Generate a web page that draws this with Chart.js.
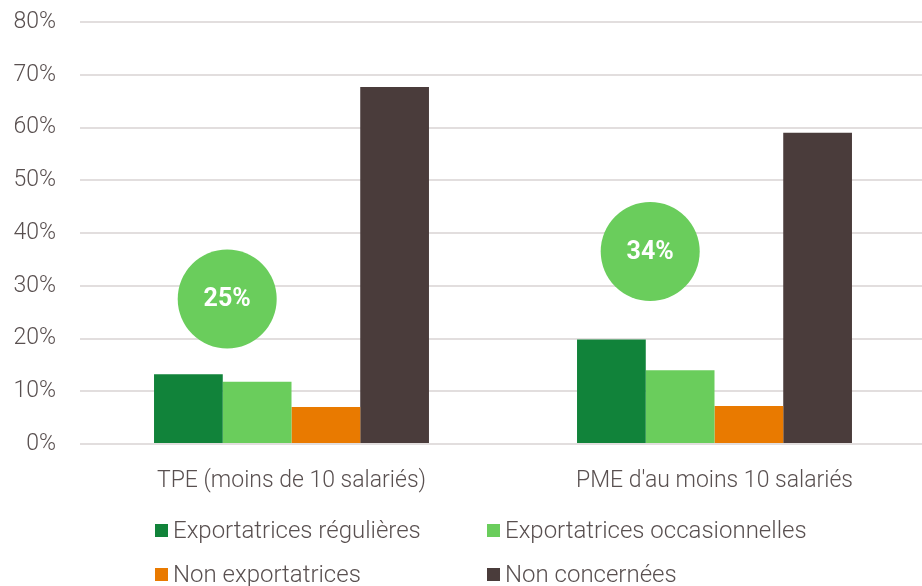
<!DOCTYPE html>
<html><head><meta charset="utf-8">
<script src="https://cdn.jsdelivr.net/npm/chart.js@4/dist/chart.umd.min.js"></script>
<style>
  html, body { margin: 0; padding: 0; background: #fff; overflow: hidden; }
  #wrap { position: relative; width: 922px; height: 586px; overflow: hidden; }
  #legend { position: absolute; left: 155px; top: 515px; display: grid; grid-template-columns: 332px 340px; row-gap: 14px;
    font-family: Roboto, sans-serif; font-weight: 300; font-size: 24px; color: #595050; }
  #legend div { display: flex; align-items: center; height: 30px; white-space: nowrap; }
  #legend span { width: 13px; height: 13px; margin-right: 5px; display: inline-block; }
</style></head>
<body>
<div id="wrap">
  <canvas id="c" width="926" height="586"></canvas>
  <div id="legend"></div>
</div>
<script>
// données
const categories = ['TPE (moins de 10 salariés)', "PME d'au moins 10 salariés"];
const series = ['Exportatrices régulières', 'Exportatrices occasionnelles', 'Non exportatrices', 'Non concernées'];
const regulieres = [13.2, 19.8];
const occasionnelles = [11.8, 14.0];
const nonExport = [7.0, 7.2];
const nonConcernees = [67.7, 59.0];
const bubbleLabels = ['25%', '34%'];
const bubbleY = [27.5, 36.5];

const C = { dark: '#11833a', light: '#6acd5c', orange: '#e97a00', brown: '#4a3c3b', ink: '#595050', line: '#e2dede' };
const FONT = "Roboto, sans-serif";
const colors = [C.dark, C.light, C.orange, C.brown];

// bulles vertes (part des exportatrices)
const bubbles = {
  id: 'bubbles',
  afterDatasetsDraw(chart) {
    const { ctx, scales: { x, y } } = chart;
    const cw = x.getPixelForValue(1) - x.getPixelForValue(0);
    bubbleLabels.forEach((t, i) => {
      const cx = x.getPixelForValue(i) - cw * 0.152, cy = y.getPixelForValue(bubbleY[i]);
      ctx.save();
      ctx.beginPath(); ctx.arc(cx, cy, 49.5, 0, Math.PI * 2);
      ctx.fillStyle = C.light; ctx.fill();
      ctx.fillStyle = '#fff'; ctx.font = "bold 25px Roboto, sans-serif";
      ctx.textAlign = 'center'; ctx.textBaseline = 'middle';
      ctx.fillText(t, cx, cy + 1);
      ctx.restore();
    });
  },
};

const data = [regulieres, occasionnelles, nonExport, nonConcernees];
new Chart(document.getElementById('c'), {
  type: 'bar',
  data: {
    labels: categories,
    datasets: series.map((s, i) => ({ label: s, data: data[i], backgroundColor: colors[i], categoryPercentage: 0.65, barPercentage: 1 })),
  },
  options: {
    responsive: false, animation: false,
    layout: { padding: { top: 22, right: 0, left: 0, bottom: 0 } },
    plugins: { legend: { display: false }, tooltip: { enabled: false } },
    scales: {
      x: {
        grid: { display: false }, border: { display: false },
        ticks: { color: C.ink, font: { family: FONT, size: 23, weight: 300 }, padding: 15 },
        afterFit: (s) => { s.height = 142; },
      },
      y: {
        min: 0, max: 80,
        grid: { color: C.line, lineWidth: 2, tickLength: 24, tickColor: 'rgba(0,0,0,0)' }, border: { display: false },
        ticks: { stepSize: 10, color: C.ink, font: { family: FONT, size: 23, weight: 300 }, padding: 0, callback: (v) => v + '%' },
        afterFit: (s) => { s.width = 80; },
      },
    },
  },
  plugins: [bubbles],
});

document.getElementById('legend').innerHTML = series.map((s, i) =>
  `<div><span style="background:${colors[i]}"></span>${s}</div>`).join('');
</script>
</body></html>
